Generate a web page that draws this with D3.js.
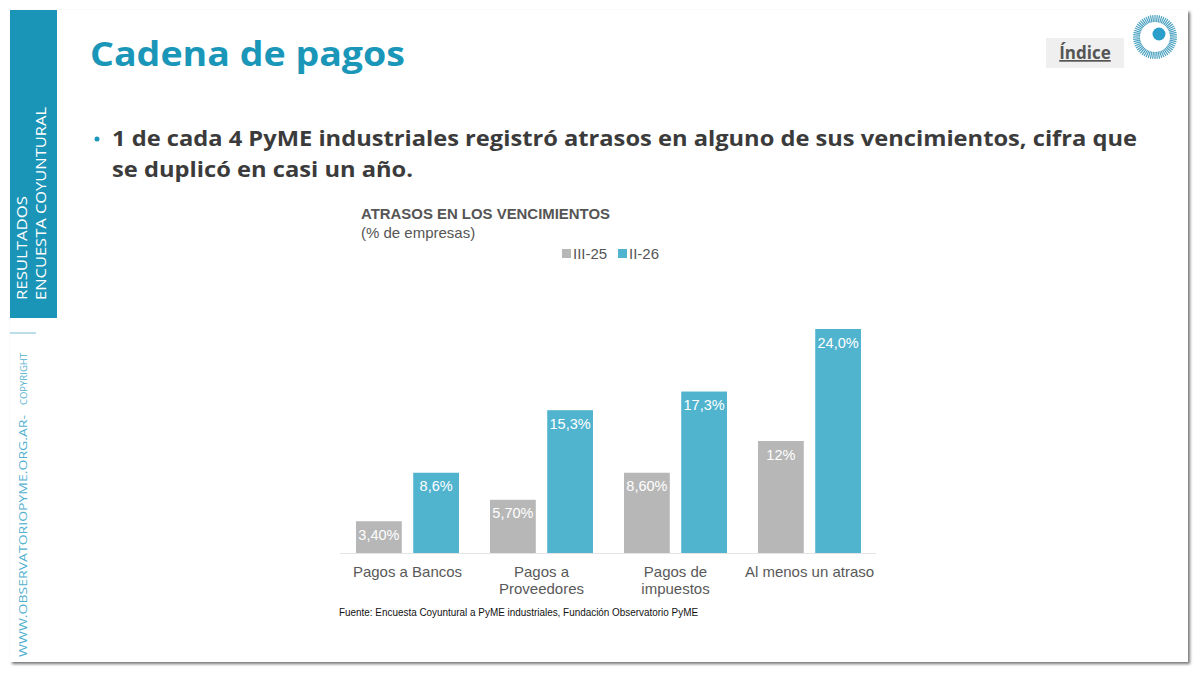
<!DOCTYPE html>
<html>
<head>
<meta charset="utf-8">
<script src="https://cdn.jsdelivr.net/npm/d3@7"></script>
<style>
  html, body { margin: 0; padding: 0; background: #ffffff; }
  svg { display: block; }
</style>
</head>
<body>
<svg id="slide" width="1200" height="674"></svg>
<script>
// datos del grafico
const categorias = [["Pagos a Bancos"], ["Pagos a", "Proveedores"], ["Pagos de", "impuestos"], ["Al menos un atraso"]];
const series = ["III-25", "II-26"];
const valoresIII25 = [3.4, 5.7, 8.6, 12];
const valoresII26 = [8.6, 15.3, 17.3, 24.0];
const etiquetasIII25 = ["3,40%", "5,70%", "8,60%", "12%"];
const etiquetasII26 = ["8,6%", "15,3%", "17,3%", "24,0%"];
const colores = ["#b7b7b7", "#51b4cf"];

const svg = d3.select("#slide");

// sombra de la diapositiva
const defs = svg.append("defs");
const f = defs.append("filter").attr("id", "sombra").attr("x", "-5%").attr("y", "-5%").attr("width", "110%").attr("height", "110%");
f.append("feDropShadow").attr("dx", 2).attr("dy", 2).attr("stdDeviation", 1.6).attr("flood-color", "#000").attr("flood-opacity", 0.55);

svg.append("rect").attr("x", 10).attr("y", 10).attr("width", 1178).attr("height", 652)
    .attr("fill", "#fff").attr("filter", "url(#sombra)");

// banda lateral
svg.append("rect").attr("x", 10).attr("y", 10).attr("width", 47).attr("height", 308).attr("fill", "#1a95b7");
svg.append("line").attr("x1", 10).attr("x2", 36).attr("y1", 333).attr("y2", 333)
    .attr("stroke", "#8fc9dc").attr("stroke-width", 1.2);

const lateral = svg.append("g").attr("font-family", "Open Sans, sans-serif").attr("font-weight", 400);
lateral.append("text").attr("transform", "translate(27,300) rotate(-90)")
    .attr("fill", "#fff").attr("font-size", 14.5)
    .attr("textLength", 104).attr("lengthAdjust", "spacingAndGlyphs").text("RESULTADOS");
lateral.append("text").attr("transform", "translate(46,300) rotate(-90)")
    .attr("fill", "#fff").attr("font-size", 14.5)
    .attr("textLength", 193).attr("lengthAdjust", "spacingAndGlyphs").text("ENCUESTA COYUNTURAL");
lateral.append("text").attr("transform", "translate(27,657) rotate(-90)")
    .attr("fill", "#4fb0cf").attr("font-size", 11)
    .attr("textLength", 242).attr("lengthAdjust", "spacingAndGlyphs")
    .text("WWW.OBSERVATORIOPYME.ORG.AR-");
lateral.append("text").attr("transform", "translate(27,405) rotate(-90)")
    .attr("fill", "#4fb0cf").attr("font-size", 9.5)
    .attr("textLength", 52).attr("lengthAdjust", "spacingAndGlyphs")
    .text("COPYRIGHT");

// titulo
svg.append("text").attr("x", 90).attr("y", 66)
    .attr("font-family", "Open Sans, sans-serif").attr("font-weight", 700).attr("font-size", 34)
    .attr("fill", "#1a97b8").attr("textLength", 315).attr("lengthAdjust", "spacingAndGlyphs")
    .text("Cadena de pagos");

// boton indice
svg.append("rect").attr("x", 1046).attr("y", 38).attr("width", 78).attr("height", 30).attr("fill", "#efefef");
svg.append("text").attr("x", 1085).attr("y", 59).attr("text-anchor", "middle")
    .attr("font-family", "Open Sans, sans-serif").attr("font-weight", 700).attr("font-size", 17)
    .attr("fill", "#555").attr("text-decoration", "underline").text("Índice");

// logo
const logo = svg.append("g").attr("transform", "translate(1155,37)");
logo.selectAll("line").data(d3.range(60)).join("line")
    .attr("x1", d => 15 * Math.cos(d * Math.PI / 30)).attr("y1", d => 15 * Math.sin(d * Math.PI / 30))
    .attr("x2", d => 22 * Math.cos(d * Math.PI / 30)).attr("y2", d => 22 * Math.sin(d * Math.PI / 30))
    .attr("stroke", "#4aa2c0").attr("stroke-width", 1.2);
logo.append("circle").attr("cx", 4).attr("cy", -3).attr("r", 6.5).attr("fill", "#2a9fcb");

// texto del bullet
const bullet = svg.append("g").attr("font-family", "Open Sans, sans-serif").attr("font-weight", 700)
    .attr("font-size", 22).attr("fill", "#3b3b3b");
bullet.append("circle").attr("cx", 97).attr("cy", 139).attr("r", 2.5).attr("fill", "#1a97b8");
bullet.append("text").attr("x", 112).attr("y", 146).attr("textLength", 1025).attr("lengthAdjust", "spacingAndGlyphs")
    .text("1 de cada 4 PyME industriales registró atrasos en alguno de sus vencimientos, cifra que");
bullet.append("text").attr("x", 112).attr("y", 177).attr("textLength", 301).attr("lengthAdjust", "spacingAndGlyphs")
    .text("se duplicó en casi un año.");

// encabezado del grafico
const chartFont = "Liberation Sans, Arial, sans-serif";
svg.append("text").attr("x", 361).attr("y", 219).attr("font-family", chartFont).attr("font-weight", 700)
    .attr("font-size", 15).attr("fill", "#555").attr("textLength", 249).attr("lengthAdjust", "spacingAndGlyphs")
    .text("ATRASOS EN LOS VENCIMIENTOS");
svg.append("text").attr("x", 361).attr("y", 238).attr("font-family", chartFont)
    .attr("font-size", 15).attr("fill", "#555").text("(% de empresas)");

// leyenda
const leyenda = svg.append("g").attr("font-family", chartFont).attr("font-size", 15).attr("fill", "#555");
const legX = [562, 618];
series.forEach((s, i) => {
  leyenda.append("rect").attr("x", legX[i]).attr("y", 249).attr("width", 9).attr("height", 9).attr("fill", colores[i]);
  leyenda.append("text").attr("x", legX[i] + 11).attr("y", 259).text(s);
});

// escalas
const x0 = d3.scaleBand().domain(d3.range(categorias.length)).range([340.5, 876.5]).paddingInner(0).paddingOuter(0);
const x1 = d3.scaleBand().domain([0, 1]).range([15.5, 118.5]).paddingInner(0.2);
const y = d3.scaleLinear().domain([0, 24]).range([553, 329]);

const datos = categorias.map((c, i) => ({
  i,
  barras: [
    { s: 0, v: valoresIII25[i], et: etiquetasIII25[i] },
    { s: 1, v: valoresII26[i], et: etiquetasII26[i] }
  ]
}));

const chart = svg.append("g");

chart.append("line").attr("x1", 340).attr("x2", 876).attr("y1", y(0) + 0.5).attr("y2", y(0) + 0.5)
    .attr("stroke", "#e4e4e4").attr("stroke-width", 1);

const grupos = chart.selectAll("g.grupo").data(datos).join("g")
    .attr("class", "grupo").attr("transform", d => `translate(${x0(d.i)},0)`);

grupos.selectAll("rect").data(d => d.barras).join("rect")
    .attr("x", d => x1(d.s)).attr("width", x1.bandwidth())
    .attr("y", d => y(d.v)).attr("height", d => y(0) - y(d.v))
    .attr("fill", d => colores[d.s]);

grupos.selectAll("text.val").data(d => d.barras).join("text")
    .attr("class", "val")
    .attr("x", d => x1(d.s) + x1.bandwidth() / 2).attr("y", d => y(d.v) + 18.5)
    .attr("text-anchor", "middle").attr("font-family", chartFont).attr("font-size", 14.5)
    .attr("fill", "#fff").text(d => d.et);

// etiquetas de categorias
grupos.each(function(d) {
  const t = d3.select(this).append("text").attr("text-anchor", "middle")
      .attr("font-family", chartFont).attr("font-size", 15).attr("fill", "#595959");
  categorias[d.i].forEach((linea, k) => {
    t.append("tspan").attr("x", x0.bandwidth() / 2).attr("y", 577 + k * 17).text(linea);
  });
});

// fuente
svg.append("text").attr("x", 339).attr("y", 616).attr("font-family", chartFont)
    .attr("font-size", 10).attr("fill", "#111").attr("textLength", 359).attr("lengthAdjust", "spacingAndGlyphs")
    .text("Fuente: Encuesta Coyuntural a PyME industriales, Fundación Observatorio PyME");
</script>
</body>
</html>
